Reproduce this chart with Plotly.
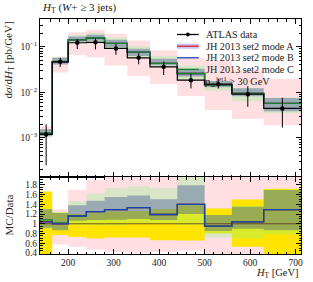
import plotly.graph_objects as go

# ---------------- data ----------------
edges = [138, 165, 200, 240, 280, 330, 380, 440, 500, 560, 630, 712]

data_val = [1.19e-3, 0.0468, 0.1225, 0.125, 0.092, 0.0573, 0.0363, 0.0185, 0.0151, 0.0091, 0.00443]
data_err_up = [7.9e-4, 0.0108, 0.0245, 0.0275, 0.023, 0.0149, 0.0109, 0.0070, 0.0047, 0.00455, 0.00319]
data_err_dn = [9.4e-4, 0.0108, 0.0331, 0.0375, 0.0258, 0.0160, 0.0123, 0.0063, 0.0030, 0.0043, 0.00275]

mc_a = [1.238e-3, 0.0468, 0.1421, 0.1563, 0.1187, 0.0762, 0.0432, 0.0259, 0.01435, 0.00946, 0.00571]
mc_b = [1.238e-3, 0.0468, 0.1421, 0.1563, 0.1187, 0.0762, 0.0432, 0.0259, 0.01435, 0.00946, 0.00571]
mc_c = [1.285e-3, 0.0477, 0.1421, 0.1563, 0.1187, 0.0762, 0.0432, 0.0259, 0.01435, 0.00946, 0.00571]

a_lo = [1.01e-3, 0.0271, 0.0649, 0.0588, 0.0386, 0.0229, 0.01525, 0.00833, 0.00408, 0.00264, 0.00190]
a_hi = [1.785e-3, 0.0604, 0.2083, 0.2375, 0.1932, 0.1375, 0.0835, 0.0574, 0.0498, 0.0309, 0.0199]
b_lo = [1.095e-3, 0.0407, 0.1299, 0.135, 0.0994, 0.0630, 0.0392, 0.0222, 0.01284, 0.00819, 0.00385]
b_hi = [1.547e-3, 0.0571, 0.1691, 0.1838, 0.1426, 0.0905, 0.0545, 0.0331, 0.01782, 0.01229, 0.00749]
c_lo = [1.071e-3, 0.0407, 0.1201, 0.1213, 0.0892, 0.0573, 0.0363, 0.0180, 0.01087, 0.00637, 0.00346]
c_hi = [1.571e-3, 0.0580, 0.1789, 0.2025, 0.1592, 0.1014, 0.0628, 0.0389, 0.01782, 0.01247, 0.00758]

series_names = ["ATLAS data", "JH 2013 set2 mode A", "JH 2013 set2 mode B", "JH 2013 set2 mode C"]
main_ticks = [1e-3, 1e-2, 1e-1]
main_ticktext = ["10<sup>\u22123</sup>", "10<sup>\u22122</sup>", "10<sup>\u22121</sup>"]
ratio_ticks = [0.4, 0.6, 0.8, 1.0, 1.2, 1.4, 1.6, 1.8]
ratio_ticktext = ["0.4", "0.6", "0.8", "1", "1.2", "1.4", "1.6", "1.8"]

# ---------------- styling ----------------
FONT = "Liberation Serif"
W, H = 313, 282
ML, MR, MT, MB = 40, 10, 19, 28
SPLIT = 77 / 235.0  # ratio panel fraction of plot height

PINK = "#ffdfe2"
YELLOW = "#ffe400"
GREEN_BAND = "rgba(125,250,135,0.30)"
BLUE_BAND = "rgba(60,80,150,0.40)"
RED = "#e8202a"
BLUE = "#1a3fb0"
GREEN = "#1e7e30"
TXT = "#222"

n = len(data_val)
centers = [(edges[i] + edges[i + 1]) / 2 for i in range(n)]


def step(vals):
    return list(edges), list(vals) + [vals[-1]]


def band(lo, hi):
    xs, ys = [], []
    for i in range(n):
        xs += [edges[i], edges[i + 1]]
        ys += [hi[i], hi[i]]
    for i in reversed(range(n)):
        xs += [edges[i + 1], edges[i]]
        ys += [lo[i], lo[i]]
    return xs, ys


def ratio(arr):
    return [a / d for a, d in zip(arr, data_val)]


fig = go.Figure()

# ---- main panel bands
for lo, hi, col, nm in [(a_lo, a_hi, PINK, series_names[1]),
                        (c_lo, c_hi, GREEN_BAND, series_names[3]),
                        (b_lo, b_hi, BLUE_BAND, series_names[2])]:
    xs, ys = band(lo, hi)
    fig.add_trace(go.Scatter(x=xs, y=ys, fill="toself", fillcolor=col, mode="none",
                             name=nm + " band", showlegend=False, hoverinfo="skip",
                             xaxis="x", yaxis="y"))

# ---- main panel MC lines
for vals, col, nm in [(mc_a, RED, series_names[1]), (mc_b, BLUE, series_names[2]),
                      (mc_c, GREEN, series_names[3])]:
    xs, ys = step(vals)
    fig.add_trace(go.Scatter(x=xs, y=ys, mode="lines", line=dict(color=col, width=1.4, shape="hv"),
                             name=nm, showlegend=False, xaxis="x", yaxis="y"))

# ---- data
xs, ys = step(data_val)
fig.add_trace(go.Scatter(x=xs, y=ys, mode="lines", line=dict(color="black", width=1.2, shape="hv"),
                         name=series_names[0] + " line", showlegend=False, xaxis="x", yaxis="y"))
fig.add_trace(go.Scatter(x=centers, y=data_val, mode="markers",
                         marker=dict(color="black", size=4.5),
                         error_y=dict(type="data", array=data_err_up, arrayminus=data_err_dn,
                                      color="black", thickness=1, width=0, symmetric=False),
                         name=series_names[0], showlegend=False, xaxis="x", yaxis="y"))

# ---- ratio panel
xs, ys = band(ratio(a_lo), ratio(a_hi))
fig.add_trace(go.Scatter(x=xs, y=ys, fill="toself", fillcolor=PINK, mode="none", showlegend=False,
                         hoverinfo="skip", xaxis="x2", yaxis="y2"))
d_lo = [(v - e) / v for v, e in zip(data_val, data_err_dn)]
d_hi = [(v + e) / v for v, e in zip(data_val, data_err_up)]
xs, ys = band(d_lo, d_hi)
fig.add_trace(go.Scatter(x=xs, y=ys, fill="toself", fillcolor=YELLOW, mode="none", showlegend=False,
                         hoverinfo="skip", xaxis="x2", yaxis="y2"))
for lo, hi, col in [(c_lo, c_hi, GREEN_BAND), (b_lo, b_hi, BLUE_BAND)]:
    xs, ys = band(ratio(lo), ratio(hi))
    fig.add_trace(go.Scatter(x=xs, y=ys, fill="toself", fillcolor=col, mode="none", showlegend=False,
                             hoverinfo="skip", xaxis="x2", yaxis="y2"))

xs, ys = step(ratio(data_val))
fig.add_trace(go.Scatter(x=xs, y=ys, mode="lines", line=dict(color="rgba(90,50,20,0.8)", width=1, shape="hv"),
                         showlegend=False, xaxis="x2", yaxis="y2"))
for vals, col in [(mc_a, RED), (mc_c, GREEN), (mc_b, BLUE)]:
    xs, ys = step(ratio(vals))
    fig.add_trace(go.Scatter(x=xs, y=ys, mode="lines", line=dict(color=col, width=1.3, shape="hv"),
                             showlegend=False, xaxis="x2", yaxis="y2"))

# ---------------- axes ----------------
axis_common = dict(showline=True, linecolor="black", linewidth=1, mirror="allticks",
                   ticks="inside", tickcolor="black", ticklen=5, tickwidth=1,
                   showgrid=False, zeroline=False,
                   tickfont=dict(family=FONT, size=9.5, color=TXT))

fig.update_layout(
    width=W, height=H, margin=dict(l=ML, r=MR, t=MT, b=MB),
    paper_bgcolor="white", plot_bgcolor="white", showlegend=False,
    font=dict(family=FONT, color=TXT),
    xaxis=dict(axis_common, domain=[0, 1], anchor="y", range=[edges[0], edges[-1]],
               tick0=0, dtick=100, showticklabels=False, matches="x2",
               minor=dict(ticks="inside", ticklen=2.5, dtick=20, tickcolor="black")),
    yaxis=dict(axis_common, domain=[SPLIT, 1], anchor="x", type="log", range=[-3.86, -0.39],
               tickmode="array", tickvals=main_ticks, ticktext=main_ticktext,
               minor=dict(ticks="inside", ticklen=2.5, tickcolor="black", tickmode="array",
                          tickvals=[k * 10 ** e for e in range(-4, 0) for k in range(2, 10)])),
    xaxis2=dict(axis_common, domain=[0, 1], anchor="y2", range=[edges[0], edges[-1]],
                tickmode="array", tickvals=[200, 300, 400, 500, 600, 700],
                minor=dict(ticks="inside", ticklen=2.5, dtick=20, tick0=0, tickcolor="black")),
    yaxis2=dict(axis_common, domain=[0, SPLIT], anchor="x2", range=[0.38, 1.96],
                tickmode="array", tickvals=ratio_ticks, ticktext=ratio_ticktext,
                minor=dict(ticks="inside", ticklen=2.5, dtick=0.05, tick0=0, tickcolor="black")),
)

# ---------------- texts ----------------
def px_x(px):
    return (px - ML) / (W - ML - MR)


def px_y(py):
    return (H - MB - py) / (H - MT - MB)


ann = []
ann.append(dict(text="<i>H</i><sub>T</sub> (<i>W</i>+ \u2265 3 jets)", xref="paper", yref="paper",
                x=0, y=1, xanchor="left", yanchor="bottom", yshift=2, showarrow=False,
                font=dict(family=FONT, size=11, color=TXT)))
ann.append(dict(text="d<i>\u03c3</i>/d<i>H</i><sub>T</sub> [pb/GeV]", xref="paper", yref="paper",
                x=0, y=1, xshift=-32, yshift=-1, xanchor="center", yanchor="top", textangle=-90,
                showarrow=False, font=dict(family=FONT, size=11, color=TXT)))
ann.append(dict(text="MC/Data", xref="paper", yref="paper", x=0, y=SPLIT / 2, xshift=-32,
                xanchor="center", yanchor="middle", textangle=-90, showarrow=False,
                font=dict(family=FONT, size=11, color=TXT)))
ann.append(dict(text="<i>H</i><sub>T</sub> [GeV]", xref="paper", yref="paper", x=1, y=0,
                xanchor="right", yanchor="middle", yshift=-19, showarrow=False,
                font=dict(family=FONT, size=10.5, color=TXT)))

# legend (drawn by hand)
row_y = [34.5, 46.2, 57.8, 69.4]
lx0, lx1, ltx = 178, 200, 205
shapes = []
leg_colors = ["black", RED, BLUE, GREEN]
for i, (nm, col) in enumerate(zip(series_names, leg_colors)):
    yy = px_y(row_y[i])
    if i == 1:
        shapes.append(dict(type="rect", xref="paper", yref="paper", x0=px_x(lx0), x1=px_x(lx1),
                           y0=px_y(row_y[i] + 2.6), y1=px_y(row_y[i] - 2.6),
                           fillcolor="rgba(150,150,245,0.55)", line=dict(width=0)))
    shapes.append(dict(type="line", xref="paper", yref="paper", x0=px_x(lx0), x1=px_x(lx1),
                       y0=yy, y1=yy, line=dict(color=col, width=1.3)))
    if i == 0:
        shapes.append(dict(type="circle", xref="paper", yref="paper",
                           x0=px_x(189 - 1.9), x1=px_x(189 + 1.9),
                           y0=px_y(row_y[i] + 1.9), y1=px_y(row_y[i] - 1.9),
                           fillcolor="black", line=dict(color="black", width=0)))
    ann.append(dict(text=nm, xref="paper", yref="paper", x=px_x(ltx), y=yy, xanchor="left",
                    yanchor="middle", showarrow=False, font=dict(family=FONT, size=10.2, color=TXT)))
ann.append(dict(text="<i>p</i><sub>\u22a5</sub><sup>jet1</sup> > 30 GeV", xref="paper", yref="paper",
                x=px_x(ltx - 2), y=px_y(81.5), xanchor="left", yanchor="middle", showarrow=False,
                font=dict(family=FONT, size=10.2, color=TXT)))

fig.update_layout(annotations=ann, shapes=shapes)
fig.write_html("out.html", config={"displayModeBar": False},
               post_script="document.body.style.margin='0px';")
